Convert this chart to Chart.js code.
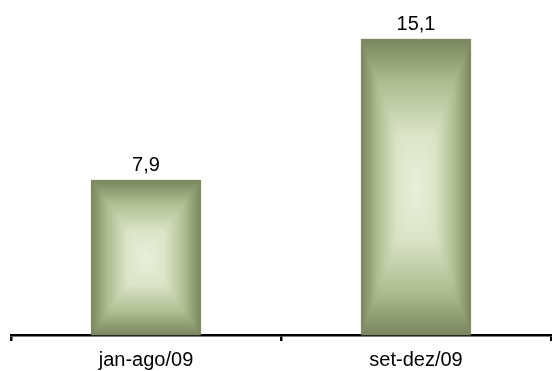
<!DOCTYPE html>
<html>
<head>
<meta charset="utf-8">
<script src="https://cdn.jsdelivr.net/npm/chart.js@4/dist/chart.umd.min.js"></script>
<style>
  html, body { margin: 0; padding: 0; background: #fff; }
  #wrap { width: 552px; height: 371px; }
</style>
</head>
<body>
<div id="wrap"><canvas id="c" width="552" height="371"></canvas></div>
<script>
const categories = ['jan-ago/09', 'set-dez/09'];
const values = [7.9, 15.1];

const edgeColor = '#7a865d';
const centerColor = '#eaf0dc';
const FONT = '"Liberation Sans", Arial, sans-serif';

function shadeStops(g) {
  g.addColorStop(0, edgeColor);
  g.addColorStop(0.3, '#afbd90');
  g.addColorStop(0.65, '#dae4c7');
  g.addColorStop(1, centerColor);
}

// Paints each bar with a rectangular "from centre" gradient: four triangles,
// each shaded from its edge towards the bar's centre point.
const centreGradientBars = {
  id: 'centreGradientBars',
  afterDatasetsDraw(chart) {
    const ctx = chart.ctx;
    const meta = chart.getDatasetMeta(0);
    meta.data.forEach((bar, i) => {
      const p = bar.getProps(['x', 'y', 'base', 'width'], true);
      const l = p.x - p.width / 2, r = p.x + p.width / 2;
      const t = Math.min(p.y, p.base), b = Math.max(p.y, p.base);
      const cx = (l + r) / 2, cy = (t + b) / 2;
      const tris = [
        [[l, t], [r, t], [cx, cy], [cx, t, cx, cy]],
        [[l, b], [r, b], [cx, cy], [cx, b, cx, cy]],
        [[l, t], [l, b], [cx, cy], [l, cy, cx, cy]],
        [[r, t], [r, b], [cx, cy], [r, cy, cx, cy]]
      ];
      ctx.save();
      tris.forEach(tr => {
        const gl = tr[3];
        const g = ctx.createLinearGradient(gl[0], gl[1], gl[2], gl[3]);
        shadeStops(g);
        ctx.beginPath();
        ctx.moveTo(tr[0][0], tr[0][1]);
        ctx.lineTo(tr[1][0], tr[1][1]);
        ctx.lineTo(tr[2][0], tr[2][1]);
        ctx.closePath();
        ctx.fillStyle = g;
        ctx.fill();
        ctx.strokeStyle = g;
        ctx.lineWidth = 0.6;
        ctx.stroke();
      });
      ctx.restore();

      // value label above the bar
      ctx.save();
      ctx.font = '20px ' + FONT;
      ctx.fillStyle = '#000';
      ctx.textAlign = 'center';
      ctx.textBaseline = 'alphabetic';
      const txt = values[i].toFixed(1).replace('.', ',');
      ctx.fillText(txt, p.x, t - 9);
      ctx.restore();
    });
  }
};

new Chart(document.getElementById('c'), {
  type: 'bar',
  data: {
    labels: categories,
    datasets: [{
      data: values,
      backgroundColor: edgeColor,
      borderWidth: 0,
      categoryPercentage: 1.0,
      barPercentage: 0.405
    }]
  },
  options: {
    responsive: false,
    animation: false,
    layout: { padding: { left: 11, right: 1, top: 2, bottom: 0 } },
    plugins: { legend: { display: false }, tooltip: { enabled: false } },
    scales: {
      y: { display: false, min: 0, max: 17 },
      x: {
        afterFit(scale) { scale.height = 36; },
        border: { display: true, color: '#000', width: 2.5 },
        grid: {
          offset: true,
          drawOnChartArea: false,
          drawTicks: true,
          tickLength: 6,
          color: '#000',
          lineWidth: 2.5
        },
        ticks: {
          color: '#000',
          padding: 7,
          maxRotation: 0,
          font: { family: FONT, size: 20 }
        }
      }
    }
  },
  plugins: [centreGradientBars]
});
</script>
</body>
</html>
